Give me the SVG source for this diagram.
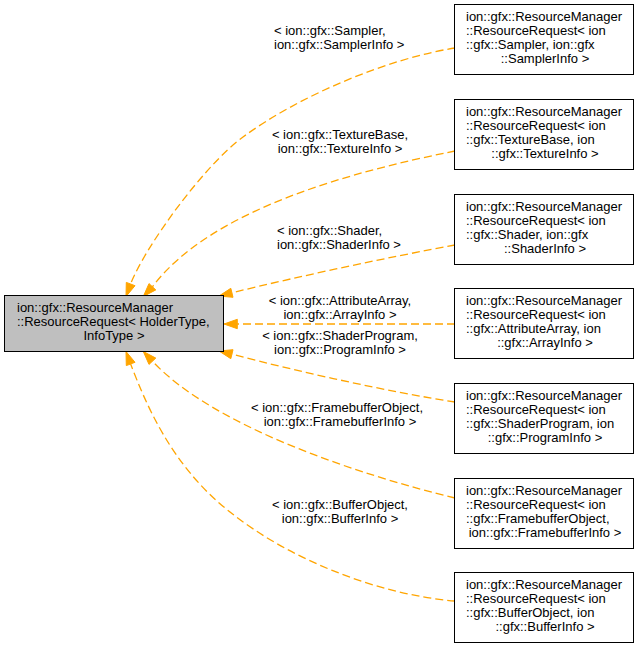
<svg xmlns="http://www.w3.org/2000/svg" width="640" height="648" viewBox="0 0 640 648">
<style>
text{font-family:"Liberation Sans",Arial,sans-serif;font-size:13px;fill:#000}
.m{text-anchor:middle}
.box{fill:#fff;stroke:#000;stroke-width:1}
.main{fill:#bfbfbf;stroke:#000;stroke-width:1}
.e{fill:none;stroke:#ffa500;stroke-width:1.3;stroke-dasharray:8,4}
.a{fill:#ffa500;stroke:#ffa500;stroke-width:1}
</style>
<rect width="640" height="648" fill="#fff"/>
<g id="edges">
<path class="e" d="M455,48 C390,58 300,95 243,137 C203,166.5 145,247 130.6,284"/>
<polygon class="a" points="126,296.5 135,285.7 126.3,282.4"/>
<path class="e" d="M455,151 C350,172 210,210 152.4,286.8"/>
<polygon class="a" points="143.3,296.5 155.8,289.9 149,283.6"/>
<path class="e" d="M455,245 C390,257 300,276 231.9,292.8"/>
<polygon class="a" points="219,296 233,297.3 230.8,288.3"/>
<path class="e" d="M455,324 L237.3,324"/>
<polygon class="a" points="224,324 237.3,328.7 237.3,319.3"/>
<path class="e" d="M455,402 C390,392 300,372 231.9,354.2"/>
<polygon class="a" points="219,351 233,349.7 230.8,358.7"/>
<path class="e" d="M455,498 C360,475 214,427 152.4,361.2"/>
<polygon class="a" points="143.3,351.5 155.8,358.1 149,364.4"/>
<path class="e" d="M455,601 C380,595 290,560 230,512 C170,465 145,401 130.6,364"/>
<polygon class="a" points="126,351.5 135,362.3 126.3,365.6"/>
</g>
<g id="edge-labels">
<text x="274" y="35">&lt; ion::gfx::Sampler,</text>
<text x="274" y="49">ion::gfx::SamplerInfo &gt;</text>
<text class="m" x="340" y="139">&lt; ion::gfx::TextureBase,</text>
<text class="m" x="340" y="153">ion::gfx::TextureInfo &gt;</text>
<text x="277" y="235">&lt; ion::gfx::Shader,</text>
<text x="277" y="249">ion::gfx::ShaderInfo &gt;</text>
<text class="m" x="340" y="305">&lt; ion::gfx::AttributeArray,</text>
<text class="m" x="340" y="319">ion::gfx::ArrayInfo &gt;</text>
<text class="m" x="340" y="340">&lt; ion::gfx::ShaderProgram,</text>
<text class="m" x="340" y="354">ion::gfx::ProgramInfo &gt;</text>
<text class="m" x="337" y="411.5">&lt; ion::gfx::FramebufferObject,</text>
<text class="m" x="340" y="425.5">ion::gfx::FramebufferInfo &gt;</text>
<text class="m" x="340" y="509">&lt; ion::gfx::BufferObject,</text>
<text class="m" x="340" y="523">ion::gfx::BufferInfo &gt;</text>
</g>
<g id="main">
<rect class="main" x="4.5" y="295.5" width="219" height="56"/>
<text x="17" y="312">ion::gfx::ResourceManager</text>
<text x="17" y="326">::ResourceRequest&lt; HolderType,</text>
<text class="m" x="114" y="340">InfoType &gt;</text>
</g>
<g id="n-sampler">
<rect class="box" x="454.5" y="4.5" width="179" height="70"/>
<text x="466" y="21">ion::gfx::ResourceManager</text>
<text x="466" y="35">::ResourceRequest&lt; ion</text>
<text x="466" y="49">::gfx::Sampler, ion::gfx</text>
<text class="m" x="545" y="63">::SamplerInfo &gt;</text>
</g>
<g id="n-texture">
<rect class="box" x="454.5" y="99.5" width="179" height="70"/>
<text x="466" y="116">ion::gfx::ResourceManager</text>
<text x="466" y="130">::ResourceRequest&lt; ion</text>
<text x="466" y="144">::gfx::TextureBase, ion</text>
<text class="m" x="545" y="158">::gfx::TextureInfo &gt;</text>
</g>
<g id="n-shader">
<rect class="box" x="454.5" y="194.5" width="179" height="70"/>
<text x="466" y="211">ion::gfx::ResourceManager</text>
<text x="466" y="225">::ResourceRequest&lt; ion</text>
<text x="466" y="239">::gfx::Shader, ion::gfx</text>
<text class="m" x="545" y="253">::ShaderInfo &gt;</text>
</g>
<g id="n-attribute">
<rect class="box" x="454.5" y="288.5" width="179" height="70"/>
<text x="466" y="305">ion::gfx::ResourceManager</text>
<text x="466" y="319">::ResourceRequest&lt; ion</text>
<text x="466" y="333">::gfx::AttributeArray, ion</text>
<text class="m" x="545" y="347">::gfx::ArrayInfo &gt;</text>
</g>
<g id="n-program">
<rect class="box" x="454.5" y="383.5" width="179" height="70"/>
<text x="466" y="400">ion::gfx::ResourceManager</text>
<text x="466" y="414">::ResourceRequest&lt; ion</text>
<text x="466" y="428">::gfx::ShaderProgram, ion</text>
<text class="m" x="545" y="442">::gfx::ProgramInfo &gt;</text>
</g>
<g id="n-framebuffer">
<rect class="box" x="454.5" y="478.5" width="179" height="70"/>
<text x="466" y="495">ion::gfx::ResourceManager</text>
<text x="466" y="509">::ResourceRequest&lt; ion</text>
<text x="466" y="523">::gfx::FramebufferObject,</text>
<text class="m" x="545" y="537">ion::gfx::FramebufferInfo &gt;</text>
</g>
<g id="n-buffer">
<rect class="box" x="454.5" y="572.5" width="179" height="70"/>
<text x="466" y="589">ion::gfx::ResourceManager</text>
<text x="466" y="603">::ResourceRequest&lt; ion</text>
<text x="466" y="617">::gfx::BufferObject, ion</text>
<text class="m" x="545" y="631">::gfx::BufferInfo &gt;</text>
</g>
</svg>
